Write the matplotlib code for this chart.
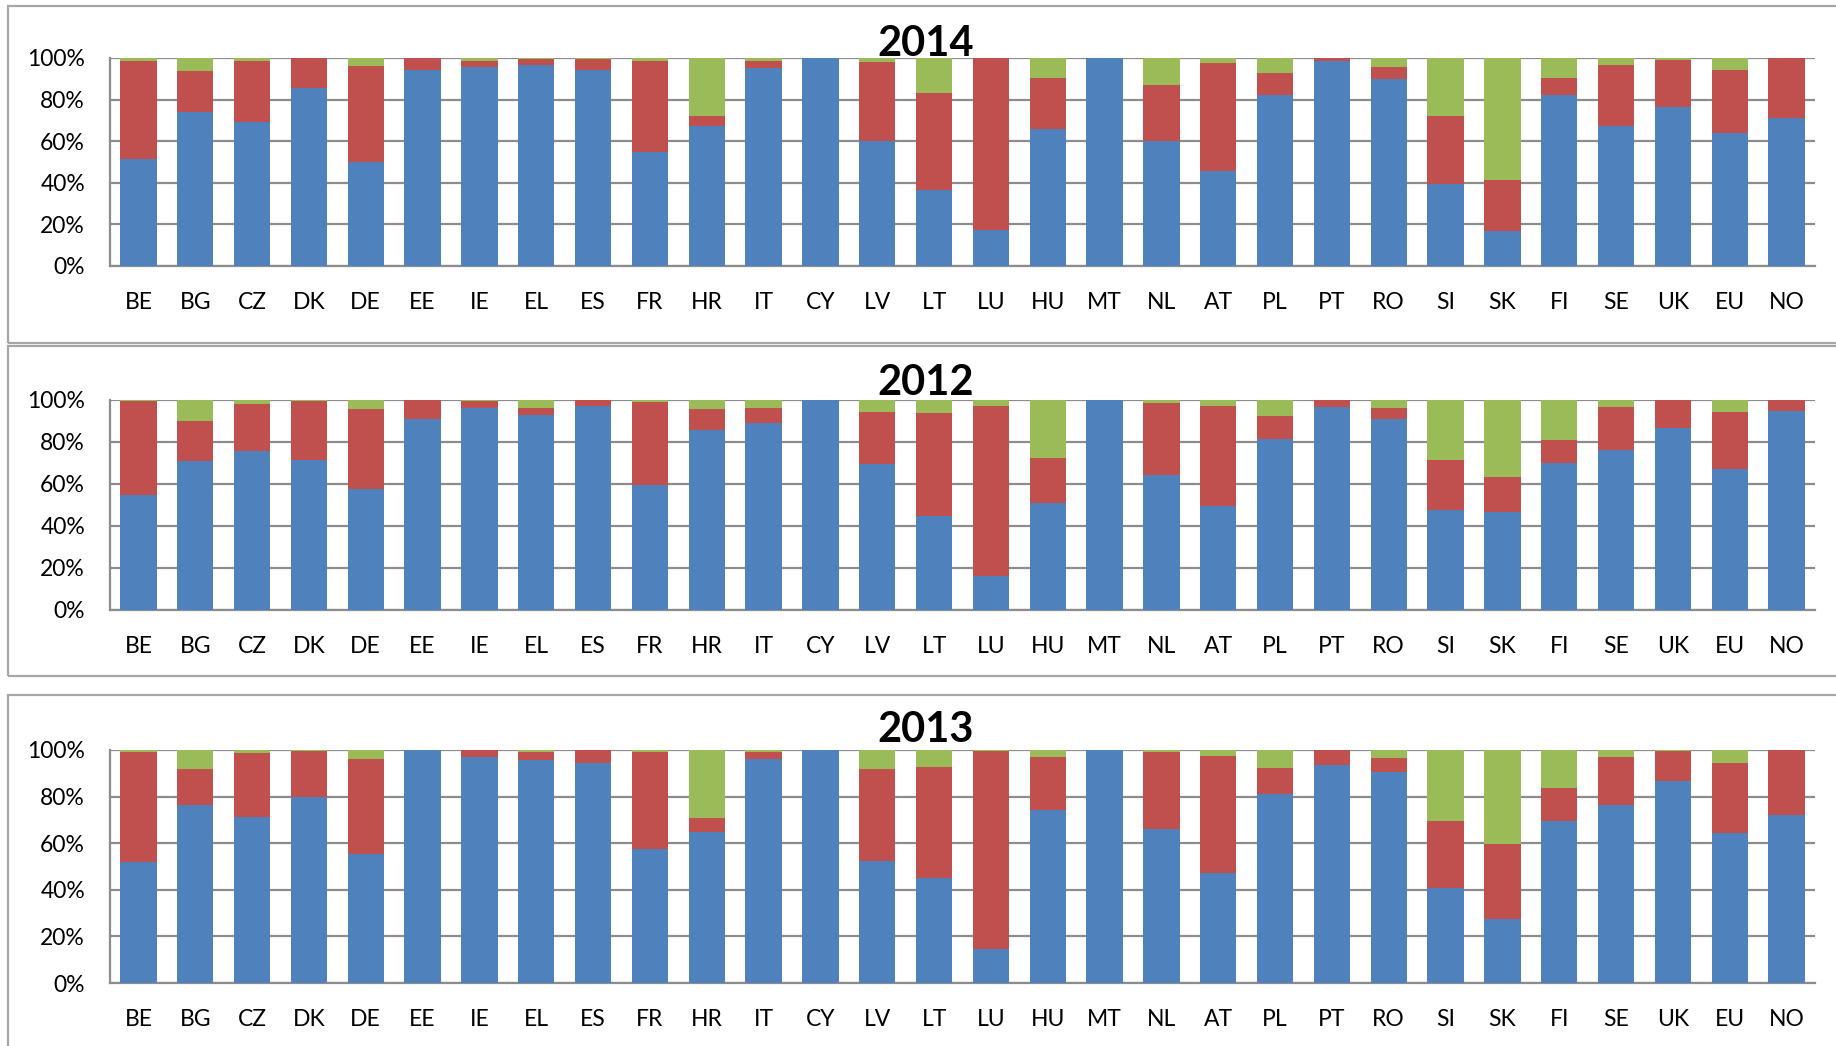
import matplotlib
matplotlib.use("Agg")
import matplotlib.pyplot as plt
from matplotlib.patches import Rectangle
import numpy as np

plt.rcParams['font.family'] = ['Lato', 'DejaVu Sans']

countries = ["BE", "BG", "CZ", "DK", "DE", "EE", "IE", "EL", "ES", "FR", "HR", "IT", "CY", "LV", "LT",
             "LU", "HU", "MT", "NL", "AT", "PL", "PT", "RO", "SI", "SK", "FI", "SE", "UK", "EU", "NO"]

blue_2014 = [51.3, 73.8, 69.1, 85.7, 49.8, 94.2, 95.7, 96.5, 94.2, 55.0, 67.2, 95.0, 100, 60.1, 36.3,
             17.5, 65.8, 100, 60.3, 45.5, 82.2, 98.7, 90.0, 39.2, 17.0, 82.2, 67.2, 76.4, 64.0, 71.1]
red_2014 = [47.4, 19.8, 29.6, 14.3, 46.2, 5.8, 2.9, 3.0, 5.5, 43.4, 5.1, 3.6, 0, 37.8, 47.1,
            82.5, 24.4, 0, 26.8, 51.9, 10.6, 1.3, 5.5, 32.8, 24.5, 8.0, 29.3, 22.5, 30.0, 28.9]
green_2014 = [1.3, 6.4, 1.3, 0, 4.0, 0, 1.4, 0.5, 0.3, 1.6, 27.7, 1.4, 0, 2.1, 16.6,
              0, 9.8, 0, 12.9, 2.6, 7.2, 0, 4.5, 28.0, 58.5, 9.8, 3.5, 1.1, 6.0, 0]

blue_2012 = [54.7, 70.8, 75.6, 71.6, 57.4, 90.8, 96.0, 92.7, 97.3, 59.6, 85.6, 88.9, 100, 69.7, 44.8,
             16.2, 51.0, 100, 64.5, 49.6, 81.6, 96.8, 91.1, 47.4, 46.9, 70.2, 76.1, 86.5, 67.0, 94.6]
red_2012 = [44.7, 19.4, 22.7, 27.8, 38.5, 9.2, 3.5, 3.7, 2.7, 39.6, 10.0, 7.5, 0, 24.8, 49.2,
            81.1, 21.3, 0, 34.2, 47.7, 11.0, 3.2, 5.3, 23.9, 16.3, 10.9, 20.7, 13.3, 27.5, 5.4]
green_2012 = [0.6, 9.8, 1.7, 0.6, 4.1, 0, 0.5, 3.6, 0, 0.8, 4.4, 3.6, 0, 5.5, 6.0,
              2.7, 27.7, 0, 1.3, 2.7, 7.4, 0, 3.6, 28.7, 36.8, 18.9, 3.2, 0.2, 5.5, 0]

blue_2013 = [52.0, 76.3, 71.3, 79.7, 55.3, 100, 97.0, 95.9, 94.3, 57.4, 65.0, 96.0, 100, 52.3, 45.0,
             14.7, 74.3, 100, 66.3, 47.0, 81.1, 93.7, 90.7, 40.9, 27.4, 69.4, 76.3, 86.6, 64.3, 72.3]
red_2013 = [47.3, 15.7, 27.6, 19.9, 41.0, 0, 3.0, 3.4, 5.7, 41.9, 6.0, 3.1, 0, 39.7, 47.7,
            84.9, 22.7, 0, 33.0, 50.6, 11.3, 6.3, 5.9, 28.8, 32.2, 14.5, 20.8, 13.0, 30.0, 27.7]
green_2013 = [0.7, 8.0, 1.1, 0.4, 3.7, 0, 0, 0.7, 0, 0.7, 29.0, 0.9, 0, 8.0, 7.3,
              0.4, 3.0, 0, 0.7, 2.4, 7.6, 0, 3.4, 30.3, 40.4, 16.1, 2.9, 0.4, 5.7, 0]

yticks = [0, 20, 40, 60, 80, 100]
ytick_labels = ["0%", "20%", "40%", "60%", "80%", "100%"]

BLUE = "#4F81BD"
RED = "#C0504D"
GREEN = "#9BBB59"
GRID = "#8C8C8C"
FRAME = "#A6A6A6"

W, H = 1836, 1046
fig = plt.figure(figsize=(W / 100, H / 100), dpi=100)

panels = [
    # title, blue, red, green, frame (y0, y1), plot (y0, y1), title y
    ("2014", blue_2014, red_2014, green_2014, (6, 343), (58, 266), 44),
    ("2012", blue_2012, red_2012, green_2012, (346, 676), (400, 610), 383),
    ("2013", blue_2013, red_2013, green_2013, (695, 1060), (750, 983), 730),
]

px_left, px_right = 110, 1815
frame_left, frame_right = 8, 1850

for title, b, r, g, (fy0, fy1), (py0, py1), ty in panels:
    # frame
    fig.patches.append(Rectangle((frame_left / W, 1 - fy1 / H), (frame_right - frame_left) / W,
                                 (fy1 - fy0) / H, transform=fig.transFigure, fill=False,
                                 edgecolor=FRAME, linewidth=1.6, zorder=0))
    ax = fig.add_axes([px_left / W, 1 - py1 / H, (px_right - px_left) / W, (py1 - py0) / H])
    x = np.arange(len(countries))
    b = np.array(b); r = np.array(r); g = np.array(g)
    ax.bar(x, b, width=0.64, color=BLUE, zorder=3, edgecolor="none")
    ax.bar(x, r, width=0.64, bottom=b, color=RED, zorder=3, edgecolor="none")
    ax.bar(x, g, width=0.64, bottom=b + r, color=GREEN, zorder=3, edgecolor="none")
    ax.set_xlim(-0.5, len(countries) - 0.5)
    ax.set_ylim(0, 100)
    ax.set_yticks(yticks)
    ax.set_yticklabels(ytick_labels)
    ax.set_xticks(x)
    ax.set_xticklabels(countries)
    ax.yaxis.grid(True, color=GRID, linewidth=1.6, zorder=0)
    ax.set_axisbelow(True)
    for s in ["top", "right"]:
        ax.spines[s].set_visible(False)
    for s in ["left", "bottom"]:
        ax.spines[s].set_color(GRID)
        ax.spines[s].set_linewidth(1.6)
    ax.tick_params(axis="both", length=0, labelsize=16.5, colors="black")
    ax.tick_params(axis="y", pad=18)
    ax.tick_params(axis="x", pad=19)
    ax.set_facecolor("white")
    fig.text(926 / W, 1 - ty / H, title, ha="center", va="center", fontsize=30,
             fontweight="bold", color="black")

fig.savefig("out.png", dpi=100)
